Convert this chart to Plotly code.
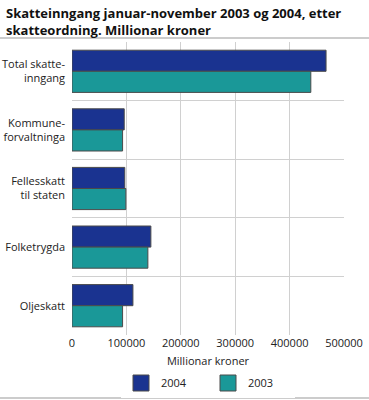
import plotly.graph_objects as go

categories = ["Total skatte-<br>inngang", "Kommune-<br>forvaltninga", "Fellesskatt<br>til staten", "Folketrygda", "Oljeskatt"]
values_2004 = [467000, 96000, 97000, 145000, 112000]
values_2003 = [439000, 93000, 99000, 139500, 93000]
x_ticks = [0, 100000, 200000, 300000, 400000, 500000]
title_text = "<b>Skatteinngang januar-november 2003 og 2004, etter<br>skatteordning. Millionar kroner</b>"

c2004 = "#1a3390"
c2003 = "#1a9898"
outline = "#4a4a4a"

W, H = 369, 400
L, R, T, B = 72, 25, 42, 65
PW, PH = W - L - R, H - T - B

fig = go.Figure()
for name, vals, col in [("2004", values_2004, c2004), ("2003", values_2003, c2003)]:
    fig.add_trace(go.Bar(y=categories, x=vals, name=name, orientation="h", showlegend=False,
                         legendgroup=name,
                         marker=dict(color=col, line=dict(color=outline, width=1))))
for name, col in [("2004", c2004), ("2003", c2003)]:
    fig.add_trace(go.Scatter(x=[None], y=[None], mode="markers", name=name, legendgroup=name,
                             marker=dict(symbol="square", size=20, color=col,
                                         line=dict(color=outline, width=1))))

fig.update_layout(
    width=W, height=H,
    margin=dict(l=L, r=R, t=T, b=B, autoexpand=False),
    paper_bgcolor="white", plot_bgcolor="white",
    font=dict(family="Open Sans", size=11, color="#222222"),
    barmode="group", bargap=0.28, bargroupgap=0,
    xaxis=dict(range=[0, 500000], tickvals=x_ticks, ticktext=[str(v) for v in x_ticks],
               showgrid=True, gridcolor="#d0d0d0", gridwidth=1, zeroline=False,
               showline=False, ticks="", tickfont=dict(size=11), automargin=False,
               title=dict(text="Millionar kroner", font=dict(size=11), standoff=8)),
    yaxis=dict(autorange="reversed", type="category", tickson="boundaries",
               showgrid=True, gridcolor="#d0d0d0", gridwidth=1, ticks="",
               showline=False, tickfont=dict(size=11), ticklabelstandoff=6,
               automargin=False),
    legend=dict(orientation="h", x=0.5, xanchor="center", xref="paper",
                y=1 - 383 / H, yref="container", yanchor="middle",
                traceorder="normal", font=dict(size=11),
                entrywidth=42, itemsizing="trace"),
    showlegend=True,
    annotations=[dict(text=title_text, xref="paper", yref="paper",
                      x=-(L - 4) / PW, y=1 + (T - 2) / PH, xanchor="left", yanchor="top",
                      align="left", showarrow=False,
                      font=dict(family="Open Sans", size=13, color="#111111"))],
    shapes=[
        dict(type="line", xref="paper", yref="paper", x0=-L / PW, x1=1 + R / PW,
             y0=1 + 4 / PH, y1=1 + 4 / PH, line=dict(color="#999999", width=1)),
        dict(type="line", xref="paper", yref="paper", x0=-L / PW, x1=1 + R / PW,
             y0=-(B - 2) / PH, y1=-(B - 2) / PH, line=dict(color="#999999", width=1)),
    ],
)

fig.write_html("out.html", config={"displayModeBar": False},
               post_script="document.body.style.margin='0';")
